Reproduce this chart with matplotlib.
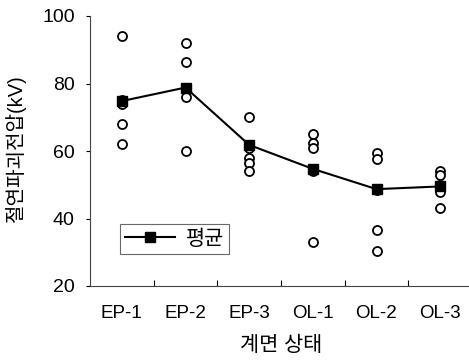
import matplotlib.pyplot as plt
import numpy as np

plt.rcParams["font.family"] = ["Liberation Sans", "Noto Sans CJK KR"]

conditions = ["EP-1", "EP-2", "EP-3", "OL-1", "OL-2", "OL-3"]

# individual breakdown voltages per interface condition (kV)
samples = [
    [94.0, 75.0, 74.0, 68.0, 62.0],
    [92.0, 86.5, 78.0, 76.0, 60.0],
    [70.0, 61.0, 58.0, 56.5, 54.0],
    [65.0, 62.5, 61.0, 54.0, 33.0],
    [59.5, 57.5, 48.5, 36.5, 30.5],
    [54.0, 53.0, 50.0, 48.0, 43.0],
]
means = [74.8, 78.8, 61.8, 54.7, 48.7, 49.5]

fig = plt.figure(figsize=(4.69, 3.64), dpi=100)
ax = fig.add_axes([90 / 469, 78 / 364, 382 / 469, 270 / 364])

x = np.arange(len(conditions))
for i, vals in enumerate(samples):
    ax.plot(
        [x[i]] * len(vals),
        vals,
        linestyle="none",
        marker="o",
        markersize=6.5,
        markerfacecolor="white",
        markeredgecolor="black",
        markeredgewidth=1.3,
        zorder=3,
    )

ax.plot(
    x,
    means,
    color="black",
    linewidth=1.5,
    marker="s",
    markersize=7,
    markerfacecolor="black",
    label="평균",
    zorder=4,
)

ax.set_xlim(-0.5, 5.5)
ax.set_ylim(20, 100)
ax.set_yticks([20, 40, 60, 80, 100])
ax.set_xticks(x)
ax.set_xticklabels(conditions)
ax.set_xticks(np.arange(0.5, 5.0, 1.0), minor=True)

ax.tick_params(axis="y", direction="out", length=3, width=0.8,
               labelsize=14, pad=8)
ax.tick_params(axis="x", which="major", length=0, labelsize=13.5, pad=14)
ax.tick_params(axis="x", which="minor", direction="in", length=4, width=0.8)

for side in ["top", "right"]:
    ax.spines[side].set_visible(False)
for side in ["left", "bottom"]:
    ax.spines[side].set_linewidth(0.8)
    ax.spines[side].set_color("#444444")

ax.set_ylabel("절연파괴전압(kV)", fontsize=14.5)
ax.yaxis.set_label_coords(-0.194, 0.51)
ax.yaxis.label.set_va("center")

ax.set_xlabel("계면 상태", fontsize=15)
ax.xaxis.set_label_coords(0.5, -0.219)
ax.xaxis.label.set_va("center")

leg = ax.legend(
    loc="lower left",
    bbox_to_anchor=(0.052, 0.081),
    fontsize=15,
    frameon=True,
    fancybox=False,
    edgecolor="#444444",
    handlelength=2.4,
    borderpad=0.25,
    handletextpad=0.5,
)
leg.get_frame().set_linewidth(0.8)

fig.savefig("out.png", dpi=100)
